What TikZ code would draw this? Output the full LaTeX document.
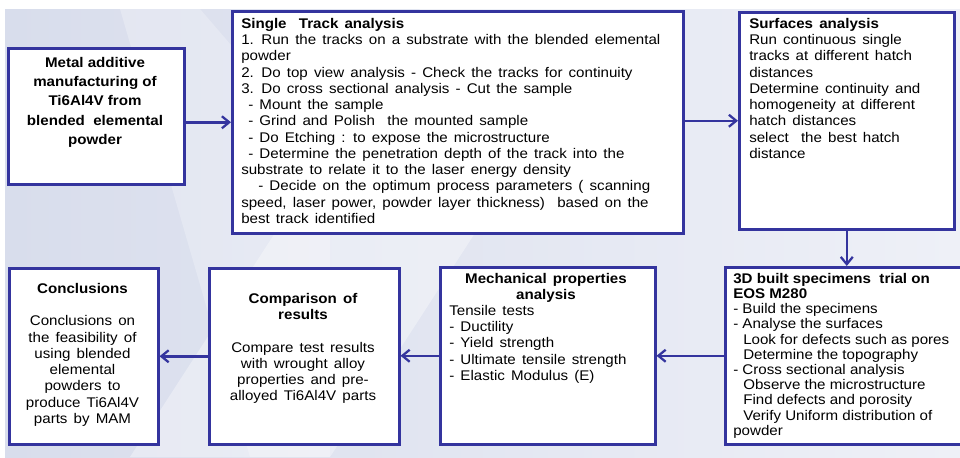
\documentclass[tikz,border=0pt]{standalone}
\usepackage{fontspec}
\setmainfont{Liberation Sans}[FakeStretch=1.08]
\usetikzlibrary{arrows.meta}
\definecolor{frameblue}{RGB}{52,52,158}
\definecolor{bgdark}{RGB}{216,221,236}
\definecolor{bglight}{RGB}{238,240,247}
% fixed height of the first text line, so a block can be set by its first baseline
\newcommand\firstrow{\rule{0pt}{8pt}}
% slightly wider interword spaces
\newcommand\widespaces{\spaceskip=4.6pt\relax}
\tikzset{
  box/.style={draw=frameblue, line width=1.9pt, fill=white, inner sep=0pt,
    anchor=north west},
  flow/.style={draw=frameblue, line width=1.9pt,
    -{Straight Barb[length=5.5pt,width=9pt,line width=1.7pt]}},
  txt/.style={inner sep=0pt, font=\fontsize{10.5}{12.2}\selectfont\widespaces},
  txtwide/.style={inner sep=0pt, font=\fontsize{10.5}{14.5}\selectfont\bfseries},
  txttight/.style={inner sep=0pt, font=\fontsize{10.5}{11.4}\selectfont},
}
\begin{document}
\begin{tikzpicture}[x=0.75pt,y=-0.75pt]
\useasboundingbox (0,0) rectangle (960,457);
\clip (0,0) rectangle (960,457);

% backdrop
\shade[left color=bgdark, right color=bglight] (5,9) rectangle (960,457);
\fill[white, opacity=0.35] (420,9) -- (620,9) -- (330,457) -- (130,457) -- cycle;
\fill[white, opacity=0.25] (120,9) -- (200,9) -- (330,160) -- (330,457) -- (250,457) -- cycle;

% frames
\node[box, minimum width=176*0.75pt, minimum height=136*0.75pt] (start) at (7,47) {};
\node[box, minimum width=451*0.75pt, minimum height=222*0.75pt] (track) at (231,10) {};
\node[box, minimum width=215*0.75pt, minimum height=217*0.75pt] (surf) at (738,11) {};
\node[box, minimum width=245*0.75pt, minimum height=177*0.75pt] (built) at (724,266) {};
\node[box, minimum width=215*0.75pt, minimum height=177*0.75pt] (mech) at (439,266) {};
\node[box, minimum width=190*0.75pt, minimum height=176*0.75pt] (comp) at (208,267) {};
\node[box, minimum width=149*0.75pt, minimum height=176*0.75pt] (concl) at (8,267) {};

% texts (y = first baseline - 10.667)
\node[txtwide, align=center, anchor=north] (startT) at (95,67-10.667)
  {\firstrow Metal additive\\manufacturing of\\Ti6Al4V from\\blended\ \ elemental\\powder};

\node[txt, align=left, anchor=north west] (trackT) at (241,28-10.667)
  {\firstrow\textbf{Single\ \ Track analysis}\\
   1. Run the tracks on a substrate with the blended elemental\\
   powder\\
   2. Do top view analysis - Check the tracks for continuity\\
   3. Do cross sectional analysis - Cut the sample\\
   \hspace*{5.25pt}- Mount the sample\\
   \hspace*{5.25pt}- Grind and Polish\ \ the mounted sample\\
   \hspace*{5.25pt}- Do Etching : to expose the microstructure\\
   \hspace*{5.25pt}- Determine the penetration depth of the track into the\\
   substrate to relate it to the laser energy density\\
   \hspace*{12.75pt}- Decide on the optimum process parameters ( scanning\\
   speed, laser power, powder layer thickness)\ \ based on the\\
   best track identified};

\node[txt, align=left, anchor=north west] (surfT) at (749,28-10.667)
  {\firstrow\textbf{Surfaces analysis}\\
   Run continuous single\\
   tracks at different hatch\\
   distances\\
   Determine continuity and\\
   homogeneity at different\\
   hatch distances\\
   select\ \ the best hatch\\
   distance};

\node[txttight, align=left, anchor=north west] (builtT) at (733,283-10.667)
  {\firstrow\textbf{3D built specimens\ \ trial on}\\
   \textbf{EOS M280}\\
   - Build the specimens\\
   - Analyse the surfaces\\
   \hspace*{7.5pt}Look for defects such as pores\\
   \hspace*{7.5pt}Determine the topography\\
   - Cross sectional analysis\\
   \hspace*{7.5pt}Observe the microstructure\\
   \hspace*{7.5pt}Find defects and porosity\\
   \hspace*{7.5pt}Verify Uniform distribution of\\
   powder};

\node[txt, align=center, anchor=north,
      font=\fontsize{10.5}{12.2}\selectfont\bfseries\widespaces]
  (mechH) at (546,283-10.667) {\firstrow Mechanical properties\\analysis};
\node[txt, align=left, anchor=north west] (mechT) at (449,315-10.667)
  {\firstrow Tensile tests\\
   - Ductility\\
   - Yield strength\\
   - Ultimate tensile strength\\
   - Elastic Modulus (E)};

\node[txt, align=center, anchor=north] (compT) at (303,303-10.667)
  {\firstrow\textbf{Comparison of}\\\textbf{results}\\[12.2pt]
   Compare test results\\
   with wrought alloy\\
   properties and pre-\\
   alloyed Ti6Al4V parts};

\node[txt, align=center, anchor=north] (conclT) at (82.5,293-10.667)
  {\firstrow\textbf{Conclusions}\\[12.2pt]
   Conclusions on\\
   the feasibility of\\
   using blended\\
   elemental\\
   powders to\\
   produce Ti6Al4V\\
   parts by MAM};

% connectors
\draw[flow] (start.east |- track.west) -- (track.west);
\draw[flow] (track.east |- surf.west) -- (surf.west);
\draw[flow] (surf.south) -- (surf.south |- built.north);
\draw[flow] (built.west |- mech.east) -- (mech.east);
\draw[flow] (mech.west) -- (comp.east |- mech.west);
\draw[flow] (comp.west) -- (concl.east |- comp.west);
\end{tikzpicture}
\end{document}
